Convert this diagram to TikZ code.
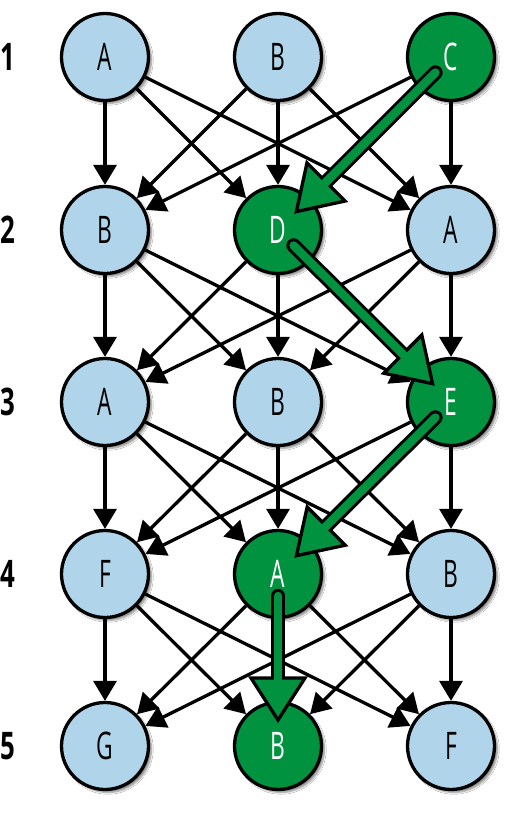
\documentclass[tikz,border=0pt]{standalone}
\usepackage{fontspec}
\usetikzlibrary{arrows.meta,calc,shadows.blur}
\newfontfamily\nodefont[FakeStretch=0.6]{Open Sans}
\newfontfamily\rowfont[FakeStretch=0.68]{Open Sans Bold}
\definecolor{lblue}{RGB}{176,212,234}
\definecolor{dgreen}{RGB}{0,146,63}
\newcommand\greenarrow[2]{%
  \coordinate (gs) at ($(#1.center)!22pt!(#2.center)$);
  \coordinate (gt) at ($(#2.center)!26pt!(#1.center)$);
  \coordinate (gb) at ($(gt)!42pt!(#1.center)$);
  \coordinate (gi) at ($(gt)!36pt!(#1.center)$);
  \draw[line width=14.5pt, line cap=round] (gs) -- (gb);
  \filldraw[fill=dgreen, line width=3.3pt, line join=miter] (gt) -- ($(gb)!27pt!90:(gt)$) -- ($(gb)!27pt!-90:(gt)$) -- cycle;
  \draw[dgreen, line width=8.5pt, line cap=round] (gs) -- (gi);
}
\begin{document}
\begin{tikzpicture}[x=1pt,y=-1pt,
  state/.style={circle, draw=black, line width=3.3pt, minimum size=87pt, inner sep=0pt,
    fill=lblue, font=\nodefont\fontsize{38}{38}\selectfont,
    blur shadow={shadow xshift=3pt, shadow yshift=-3pt, shadow blur steps=6, shadow opacity=45}},
  hot/.style={state, fill=dgreen, text=white},
  rowlabel/.style={font=\rowfont\fontsize{38}{38}\selectfont, inner sep=0pt},
  edge/.style={line width=3.3pt, -{Triangle[width=23pt,length=20pt]}}]
\useasboundingbox (0,0) rectangle (522,817);
\fill[white] (0,0) rectangle (522,817);
% row labels
\foreach \r/\y in {1/57,2/230,3/402,4/574,5/746}
  \node[rowlabel] (lab\r) at (8,\y) {\r};
% nodes
\node[state] (n11) at (105,57) {A};
\node[state] (n12) at (278,57) {B};
\node[hot]   (n13) at (451,57) {C};
\node[state] (n21) at (105,230) {B};
\node[hot]   (n22) at (278,230) {D};
\node[state] (n23) at (451,230) {A};
\node[state] (n31) at (105,402) {A};
\node[state] (n32) at (278,402) {B};
\node[hot]   (n33) at (451,402) {E};
\node[state] (n41) at (105,574) {F};
\node[hot]   (n42) at (278,574) {A};
\node[state] (n43) at (451,574) {B};
\node[state] (n51) at (105,746) {G};
\node[hot]   (n52) at (278,746) {B};
\node[state] (n53) at (451,746) {F};
% black edges
\foreach \i [evaluate=\i as \n using int(\i+1)] in {1,...,4}
  \foreach \j in {1,2,3}
    \foreach \k in {1,2,3} {
      \pgfmathtruncatemacro\code{\i*100+\j*10+\k}
      \ifnum\code=132 \else\ifnum\code=223 \else\ifnum\code=332 \else\ifnum\code=422 \else
        \draw[edge] (n\i\j) -- (n\n\k);
      \fi\fi\fi\fi
    }
% green path
\greenarrow{n13}{n22}
\greenarrow{n22}{n33}
\greenarrow{n33}{n42}
\greenarrow{n42}{n52}
\end{tikzpicture}
\end{document}
